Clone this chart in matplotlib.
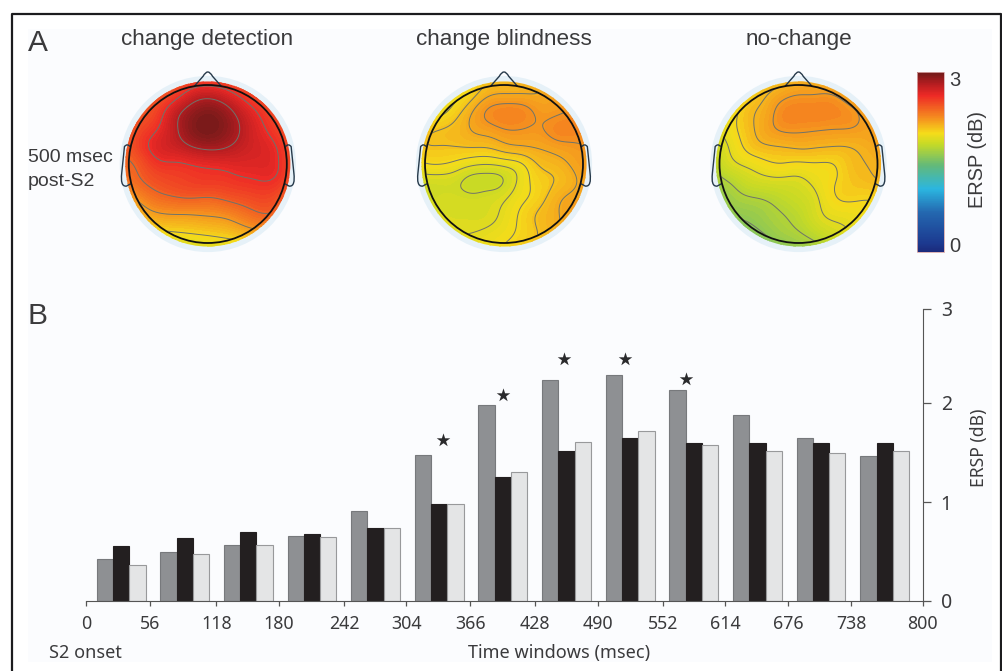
#!/usr/bin/env python
#-*- coding: utf-8 -*-
import numpy as np
import matplotlib
matplotlib.use('Agg')
import matplotlib.pyplot as plt
import matplotlib.tri as mtri
from matplotlib.colors import LinearSegmentedColormap, Normalize
from matplotlib.cm import ScalarMappable
from matplotlib.lines import Line2D
from matplotlib.patches import Circle, PathPatch, Rectangle
from matplotlib.path import Path

## Data
window_labels = ['0', '56', '118', '180', '242', '304', '366', '428', '490', '552', '614', '676', '738', '800']
ersp_labels = ['0', '1', '2', '3']
detection = [0.42, 0.50, 0.57, 0.66, 0.91, 1.47, 1.98, 2.23, 2.28, 2.13, 1.88, 1.65, 1.46]
blindness = [0.56, 0.64, 0.70, 0.68, 0.74, 0.98, 1.25, 1.52, 1.65, 1.60, 1.60, 1.60, 1.60]
no_change = [0.36, 0.47, 0.57, 0.65, 0.74, 0.98, 1.30, 1.61, 1.72, 1.58, 1.52, 1.49, 1.52]
star_windows = [5.59, 6.54, 7.49, 8.45, 9.40]
star_heights = [1.63, 2.08, 2.44, 2.44, 2.24]

# scalp values (dB) on a regular grid, top row = front of the head
scalp_detection = [
    [2.30, 2.30, 2.35, 2.40, 2.42, 2.45, 2.42, 2.40, 2.35, 2.30, 2.30],
    [2.30, 2.35, 2.42, 2.50, 2.68, 2.75, 2.68, 2.55, 2.45, 2.35, 2.30],
    [2.35, 2.42, 2.50, 2.72, 2.88, 2.95, 2.88, 2.72, 2.58, 2.45, 2.35],
    [2.38, 2.48, 2.58, 2.75, 2.92, 2.98, 2.92, 2.78, 2.64, 2.52, 2.40],
    [2.40, 2.52, 2.66, 2.72, 2.80, 2.85, 2.82, 2.74, 2.68, 2.60, 2.42],
    [2.38, 2.42, 2.56, 2.58, 2.60, 2.62, 2.64, 2.66, 2.66, 2.62, 2.42],
    [2.30, 2.38, 2.46, 2.50, 2.53, 2.55, 2.55, 2.58, 2.60, 2.58, 2.40],
    [2.10, 2.22, 2.34, 2.38, 2.40, 2.38, 2.42, 2.46, 2.50, 2.46, 2.30],
    [2.00, 2.08, 2.16, 2.18, 2.18, 2.20, 2.22, 2.30, 2.38, 2.36, 2.20],
    [1.85, 1.90, 1.95, 1.98, 2.00, 2.02, 2.05, 2.10, 2.15, 2.10, 2.00],
    [1.75, 1.75, 1.78, 1.80, 1.82, 1.85, 1.85, 1.85, 1.85, 1.85, 1.85]]
scalp_blindness = [
    [1.95, 1.95, 1.95, 1.98, 2.05, 2.10, 2.10, 2.12, 2.15, 2.18, 2.20],
    [1.88, 1.90, 1.95, 2.00, 2.12, 2.14, 2.14, 2.14, 2.18, 2.20, 2.22],
    [1.90, 1.93, 2.00, 2.12, 2.24, 2.28, 2.27, 2.20, 2.20, 2.23, 2.25],
    [2.00, 2.06, 2.08, 2.14, 2.18, 2.22, 2.22, 2.21, 2.27, 2.27, 2.25],
    [2.05, 2.06, 2.06, 2.07, 2.07, 2.12, 2.14, 2.15, 2.18, 2.20, 2.22],
    [1.95, 1.99, 1.97, 1.92, 1.90, 1.92, 1.96, 2.07, 2.10, 2.16, 2.20],
    [1.85, 1.85, 1.85, 1.80, 1.80, 1.82, 1.93, 2.02, 2.06, 2.12, 2.20],
    [1.80, 1.85, 1.86, 1.85, 1.86, 1.89, 1.96, 2.02, 2.12, 2.17, 2.20],
    [1.85, 1.88, 1.87, 1.87, 1.87, 1.92, 2.00, 2.08, 2.13, 2.18, 2.20],
    [1.90, 1.90, 1.90, 1.90, 1.92, 1.95, 2.00, 2.06, 2.13, 2.18, 2.20],
    [1.90, 1.90, 1.90, 1.92, 1.95, 2.00, 2.05, 2.10, 2.12, 2.15, 2.18]]
scalp_no_change = [
    [1.85, 1.90, 1.95, 2.00, 2.05, 2.10, 2.10, 2.10, 2.10, 2.10, 2.15],
    [1.85, 1.88, 1.98, 2.08, 2.16, 2.20, 2.20, 2.20, 2.13, 2.13, 2.15],
    [1.85, 1.92, 2.07, 2.13, 2.25, 2.28, 2.28, 2.27, 2.23, 2.17, 2.22],
    [1.85, 1.95, 2.06, 2.15, 2.22, 2.22, 2.21, 2.20, 2.20, 2.17, 2.22],
    [1.82, 1.90, 2.03, 2.09, 2.10, 2.12, 2.11, 2.10, 2.10, 2.13, 2.20],
    [1.72, 1.87, 1.92, 1.97, 2.00, 1.98, 1.99, 1.99, 2.07, 2.10, 2.15],
    [1.65, 1.72, 1.82, 1.86, 1.87, 1.87, 1.93, 1.99, 2.05, 2.08, 2.12],
    [1.60, 1.65, 1.70, 1.72, 1.77, 1.82, 1.88, 1.99, 2.02, 2.00, 2.03],
    [1.55, 1.60, 1.62, 1.66, 1.71, 1.76, 1.87, 1.92, 1.93, 1.97, 2.00],
    [1.50, 1.50, 1.55, 1.60, 1.67, 1.71, 1.78, 1.85, 1.90, 1.95, 1.95],
    [1.45, 1.45, 1.48, 1.50, 1.55, 1.60, 1.65, 1.72, 1.80, 1.85, 1.90]]
levels_detection = [2.0, 2.2, 2.4, 2.6, 2.8]
levels_blindness = [1.83, 1.90, 1.98, 2.06, 2.14, 2.22]
levels_no_change = [1.60, 1.72, 1.90, 2.00, 2.10, 2.20]

## Initialize
W, H = 1003, 671
plt.rcParams['font.family'] = ['Liberation Sans', 'DejaVu Sans']
dark = '#3a3a3c'
scalp_cmap = LinearSegmentedColormap.from_list('ersp', [
    (0.00, '#1b2a7c'), (0.05, '#1c3a90'), (0.22, '#2468b0'), (0.35, '#2bb6e0'),
    (0.48, '#62b97a'), (0.60, '#c6da26'), (0.66, '#f5dc1a'), (0.75, '#f58a1f'),
    (0.87, '#ee2a26'), (0.94, '#b01c20'), (1.00, '#6e1a18')])
norm = Normalize(0, 3)

fig = plt.figure(figsize=(W/100., H/100.), dpi=100, facecolor='white')

def px_axes(x0, y0, x1, y1):
    return fig.add_axes([x0/float(W), 1-y1/float(H), (x1-x0)/float(W), (y1-y0)/float(H)])

def px_text(x, y, s, **kw):
    kw.setdefault('color', dark)
    return fig.text(x/float(W), 1-y/float(H), s, **kw)

## Frame and tinted background
fig.add_artist(Rectangle((28./W, 1-662./H), 964./W, 633./H, transform=fig.transFigure,
                         facecolor='#fbfcfe', edgecolor='none', zorder=-1))
frame_x = np.array([12.5, 12.5, 1001.5, 1001.5])/W
frame_y = 1-np.array([671., 13.5, 13.5, 671.])/H
fig.add_artist(Line2D(frame_x, frame_y, color='#1c1c1e', linewidth=1.6, transform=fig.transFigure))

## Panel A: scalp maps
grid_x = np.linspace(-1.1, 1.1, 11)
grid_y = np.linspace(1.1, -1.1, 11)
xx, yy = np.meshgrid(grid_x, grid_y)
tri = mtri.Triangulation(xx.ravel(), yy.ravel())
fine_x, fine_y = np.meshgrid(np.linspace(-1.1, 1.1, 177), np.linspace(-1.1, 1.1, 177))
outline = '#26394a'

def smooth(z, k=13, passes=2):
    # box blur along both axes so the contour lines come out round
    kernel = np.ones(k)/float(k)
    for _ in range(passes):
        for axis in (0, 1):
            padded = np.pad(z, [(k//2, k//2) if a == axis else (0, 0) for a in (0, 1)], mode='edge')
            z = np.apply_along_axis(lambda row: np.convolve(row, kernel, mode='valid'), axis, padded)
    return z

def draw_head(cx, values, levels):
    r = 79.
    ax = px_axes(cx-100, 164-100, cx+100, 164+100)
    ax.set_xlim(-100/r, 100/r)
    ax.set_ylim(-100/r, 100/r)
    ax.axis('off')
    ax.add_patch(Circle((0, 0), 1.115, facecolor='#e6f1f8', edgecolor='none', zorder=1))
    interp = mtri.CubicTriInterpolator(tri, np.array(values).ravel(), kind='min_E')
    zz = smooth(np.ma.filled(interp(fine_x, fine_y), 2.0))
    cf = ax.contourf(fine_x, fine_y, zz, levels=np.linspace(0, 3, 121), cmap=scalp_cmap, norm=norm, zorder=2)
    cf.set_clip_path(Circle((0, 0), 1.045, transform=ax.transData))
    cl = ax.contour(fine_x, fine_y, zz, levels=levels, colors='#6f736a', linewidths=0.7, zorder=3)
    cl.set_clip_path(Circle((0, 0), 0.99, transform=ax.transData))
    ax.add_patch(Circle((0, 0), 1., facecolor='none', edgecolor='#111111', linewidth=1.3, zorder=5))
    # nose
    nose = Path([(-0.17, 0.985), (-0.06, 1.11), (-0.03, 1.165), (0, 1.165), (0.03, 1.165), (0.06, 1.11), (0.17, 0.985)],
                [Path.MOVETO, Path.LINETO, Path.CURVE3, Path.CURVE3, Path.CURVE3, Path.LINETO, Path.LINETO])
    ax.add_patch(PathPatch(nose, facecolor='none', edgecolor=outline, linewidth=1.0, zorder=4))
    # ears
    for side in (-1, 1):
        ear = Path([(side*0.985, 0.22), (side*1.02, 0.265), (side*1.055, 0.22), (side*1.09, -0.12),
                    (side*1.10, -0.22), (side*1.09, -0.285), (side*1.03, -0.28), (side*0.975, -0.25)],
                   [Path.MOVETO, Path.CURVE3, Path.CURVE3, Path.LINETO,
                    Path.CURVE4, Path.CURVE4, Path.CURVE4, Path.LINETO])
        ax.add_patch(PathPatch(ear, facecolor='none', edgecolor=outline, linewidth=1.0, zorder=4))

draw_head(207.8, scalp_detection, levels_detection)
draw_head(504., scalp_blindness, levels_blindness)
draw_head(798.5, scalp_no_change, levels_no_change)

px_text(207.5, 40, 'change detection', fontsize=16.2, ha='center', va='center')
px_text(503.5, 40, 'change blindness', fontsize=16.2, ha='center', va='center')
px_text(798.5, 40, 'no-change', fontsize=16.2, ha='center', va='center')
px_text(28, 43, 'A', fontsize=21.5, ha='left', va='center')
px_text(28, 316, 'B', fontsize=21.5, ha='left', va='center')
px_text(28, 158, '500 msec', fontsize=14, ha='left', va='center')
px_text(28, 181, 'post-S2', fontsize=14, ha='left', va='center')

## Colorbar
cax = px_axes(916.7, 72, 944, 252)
cb = fig.colorbar(ScalarMappable(norm=norm, cmap=scalp_cmap), cax=cax)
cb.set_ticks([0.12, 2.9])
cb.set_ticklabels(['0', '3'])
cb.ax.tick_params(length=0, pad=4, labelsize=14.5, labelcolor=dark)
cb.outline.set_edgecolor('#d8a8a8')
cb.outline.set_linewidth(0.6)
px_text(978, 160, 'ERSP (dB)', fontsize=14.4, rotation=90, ha='center', va='center')

## Panel B: bars
bottom_font = ['Noto Sans', 'DejaVu Sans']
ax = px_axes(86, 304, 922.7, 601)
ax.patch.set_alpha(0)
bar_w = 0.255
centres = 0.55+0.997*np.arange(len(detection))
ax.bar(centres-bar_w, detection, bar_w, color='#8e9093', edgecolor='#77797c', linewidth=0.8)
ax.bar(centres, blindness, bar_w, color='#231f20', edgecolor='#231f20', linewidth=0.8)
ax.bar(centres+bar_w, no_change, bar_w, color='#e4e5e6', edgecolor='#98999b', linewidth=0.8)
ax.scatter(star_windows, star_heights, marker='*', s=105, color='#2a2a2c', linewidths=0, zorder=4)

ax.set_xlim(0, 13.11)
ax.set_ylim(0, 3)
ax.set_xticks([0, 1, 2.04, 3.02, 4.05, 5.02, 6.02, 7.04, 8.02, 9.04, 10.02, 11.0, 11.99, 13.11])
ax.set_xticklabels(window_labels, fontsize=12.8, color=dark, family=bottom_font)
ax.set_yticks([0, 1, 2, 2.95])
ax.set_yticklabels(ersp_labels, fontsize=14, color=dark, family=bottom_font)
ax.yaxis.tick_right()
ax.tick_params(axis='x', length=3.5, width=0.9, color='#555555', pad=6.5)
ax.tick_params(axis='y', length=6, width=0.9, color='#555555', pad=7)
for name in ('top', 'left'):
    ax.spines[name].set_visible(False)
ax.spines['right'].set_bounds(0, 2.95)
ax.spines['right'].set_color('#555555')
ax.spines['bottom'].set_color('#555555')

px_text(49, 653, 'S2 onset', fontsize=13, ha='left', va='center', family=bottom_font)
px_text(559, 653, 'Time windows (msec)', fontsize=13, ha='center', va='center', family=bottom_font)
px_text(979, 448, 'ERSP (dB)', fontsize=12.6, rotation=90, ha='center', va='center', family=bottom_font)

plt.savefig('out.png', dpi=100)
